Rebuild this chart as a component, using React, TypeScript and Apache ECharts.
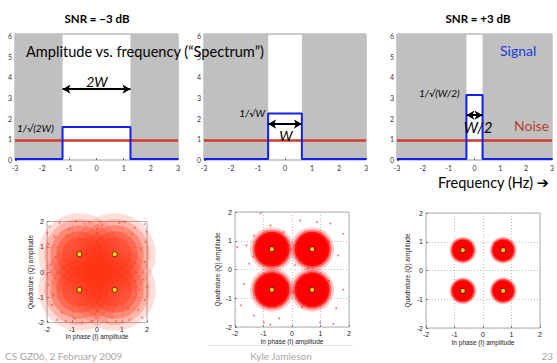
import React, { useEffect, useRef } from "react";
import * as echarts from "echarts";

// ---- Spectrum panels (top row) ----
const freqMin = -3;
const freqMax = 3;
const freqTicks = 1;
const ampMax = 6.1;
const bandHalfWidths = [1.25, 0.625, 0.3125];
const signalHeights = [1.6, 2.25, 3.15];
const signalFloor = 0.05;
const noiseLevel = 0.95;
const arrowLevels = [3.43, 1.74, 2.17];

// ---- Constellation panels (bottom row) ----
const constellationI = [-0.707, 0.707, -0.707, 0.707];
const constellationQ = [0.707, 0.707, -0.707, -0.707];
const iqMin = -2;
const iqMax = 2;

// sparse samples (plot 1)
const sparse1I = [-1.9, -1.5, -1.1, -0.5, 0.2, 0.9, 1.5, 1.9, -1.95, 1.95, -1.85, 1.9, -1.95, 1.85, -1.8, 1.9, -1.6, -0.9, -0.2, 0.6, 1.3, 1.8, -1.7, 1.65, -1.4, 1.4, 0.1, -2.0, 2.0, -0.6, 1.75, -1.75, 0.4, -0.3, 1.1, -1.25, 1.98, -1.98, 0.75, -0.85, -1.65, 1.7, -1.2, 1.25, 0.0, -0.05];
const sparse1Q = [1.8, 1.95, 1.7, 1.9, 1.85, 1.95, 1.75, 1.9, 1.1, 1.2, 0.3, 0.4, -0.5, -0.3, -1.3, -1.1, -1.9, -1.85, -1.95, -1.8, -1.9, -1.8, 1.4, -1.5, -1.6, 1.5, 2.0, -0.1, -0.6, -2.0, 0.9, -0.9, -1.98, 1.98, 1.98, -1.95, 1.6, 1.55, -1.95, 2.0, 0.6, -0.7, 1.45, -1.45, 1.7, -1.7];
// sparse samples around the mid-SNR clouds (plot 2)
const sparse2I = [-1.1, -0.76, 0.87, -1.92, 1.8, -1.34, -0.76, 0.99, 1.45, -0.99, -1.69, 1.8, -1.34, -1.8, -0.12, -0.15, 1.62, 0.29, -1.6, 1.35, -0.45, 0.1, 1.55, -1.5, 0.55, -1.35, 1.3, 1.3, -0.3, 0.35, -0.05, 0.02];
const sparse2Q = [1.95, 1.53, 1.65, 0.78, 1.24, 1.18, -1.92, -1.84, -1.89, -1.84, -0.5, -0.7, -1.6, -1.25, 0.84, -0.5, 0.49, 1.7, 0.84, 1.6, -1.7, 0.15, -1.35, 0.2, 0.05, 0.45, 0.95, -0.4, 1.3, -1.3, 0.7, -0.8];
// sparse samples around the high-SNR clouds (plot 3)
const sparse3I = [-0.98, 1.02, -0.45, 0.42, -0.92, 0.98];
const sparse3Q = [0.76, 0.62, -0.95, 0.95, -0.6, -0.85];

const fontFamily = 'Lato, "Open Sans", "DejaVu Sans", sans-serif';
const smallFont = '"Liberation Sans", Arial, sans-serif';

const topGrids = [
  { left: 15, top: 34, width: 163, height: 126 },
  { left: 204, top: 34, width: 162, height: 126 },
  { left: 397, top: 34, width: 162, height: 126 },
];
const bottomGrids = [
  { left: 47, top: 221.5, width: 100, height: 101, nameGapY: 11 },
  { left: 235, top: 212, width: 114, height: 115, nameGapY: 14 },
  { left: 426, top: 213, width: 114, height: 115, nameGapY: 15 },
];
// concentric layers [symbol size, opacity] that render each noise cloud
const cloudLayers = [
  [[82, 0.16], [70, 0.24], [58, 0.32], [46, 0.38], [34, 0.35]],
  [[44, 0.2], [39, 0.45], [35, 0.85], [31, 1]],
  [[27, 0.25], [24, 0.6], [21, 1]],
];
const cloudColors = ["#ff3010", "#ff0000", "#ff0000"];

export default function App() {
  const ref = useRef<HTMLDivElement>(null);
  useEffect(() => {
    if (!ref.current) return;
    const chart = echarts.init(ref.current, null, { renderer: "svg" });

    const grid: any[] = [];
    const xAxis: any[] = [];
    const yAxis: any[] = [];
    const series: any[] = [];

    topGrids.forEach((g, i) => {
      grid.push({ ...g, show: true, borderColor: "#9a9a9a", borderWidth: 1, backgroundColor: "#fff" });
      xAxis.push({
        gridIndex: i, type: "value", min: freqMin, max: freqMax, interval: freqTicks,
        axisLine: { show: false, onZero: false }, splitLine: { show: false },
        axisTick: { inside: true, length: 2, lineStyle: { color: "#666" } },
        axisLabel: { fontSize: 7, color: "#333", margin: 4, fontFamily },
      });
      yAxis.push({
        gridIndex: i, type: "value", min: 0, max: ampMax, interval: 1,
        axisLine: { show: false, onZero: false }, splitLine: { show: false },
        axisTick: { show: true, inside: true, length: 2, lineStyle: { color: "#666" } },
        axisLabel: {
          fontSize: 7, color: "#333", margin: 3, fontFamily,
          formatter: (v: number) => (Number.isInteger(v) ? String(v) : ""),
        },
      });
      const w = bandHalfWidths[i];
      const h = signalHeights[i];
      series.push({
        type: "line", xAxisIndex: i, yAxisIndex: i, data: [], z: 1, silent: true,
        markArea: {
          silent: true,
          itemStyle: { color: "#c0c0c0" },
          data: [
            [{ xAxis: freqMin }, { xAxis: -w }],
            [{ xAxis: w }, { xAxis: freqMax }],
          ],
        },
      });
      series.push({
        type: "line", xAxisIndex: i, yAxisIndex: i, z: 3, symbol: "none",
        lineStyle: { color: "#d23a26", width: 2.5 },
        data: [[freqMin, noiseLevel], [freqMax, noiseLevel]],
      });
      series.push({
        type: "line", xAxisIndex: i, yAxisIndex: i, z: 4, symbol: "none",
        lineStyle: { color: "#1020f0", width: 2 },
        data: [
          [freqMin, signalFloor], [-w, signalFloor], [-w, h],
          [w, h], [w, signalFloor], [freqMax, signalFloor],
        ],
      });
      series.push({
        type: "line", xAxisIndex: i, yAxisIndex: i, data: [], z: 5,
        markLine: {
          silent: true,
          symbol: ["arrow", "arrow"],
          symbolSize: [7, 8],
          label: { show: false },
          lineStyle: { color: "#000", width: 2, type: "solid" },
          data: [[{ coord: [-w, arrowLevels[i]] }, { coord: [w, arrowLevels[i]] }]],
        },
      });
    });

    const sparseI = [sparse1I, sparse2I, sparse3I];
    const sparseQ = [sparse1Q, sparse2Q, sparse3Q];
    bottomGrids.forEach((g, j) => {
      const k = j + 3;
      grid.push({
        left: g.left, top: g.top, width: g.width, height: g.height,
        show: true, borderColor: "#b0b0b0", borderWidth: 1, backgroundColor: "#fff",
      });
      const axisCommon = {
        gridIndex: k, type: "value", min: iqMin, max: iqMax, interval: 1,
        nameLocation: "middle",
        nameTextStyle: { fontSize: 6.5, color: "#222", fontFamily: smallFont },
        axisLine: { show: false, onZero: false },
        axisTick: { inside: true, length: 2, lineStyle: { color: "#777" } },
        splitLine: { show: true, lineStyle: { color: "#bdbdbd", type: [1, 2], width: 1 } },
        axisLabel: { fontSize: 7, color: "#222", margin: 3, fontFamily: smallFont },
      };
      xAxis.push({ ...axisCommon, name: "In phase (I) amplitude", nameGap: 10 });
      yAxis.push({ ...axisCommon, name: "Quadrature (Q) amplitude", nameGap: g.nameGapY });
      series.push({
        type: "scatter", xAxisIndex: k, yAxisIndex: k, z: 2, silent: true,
        symbol: "circle", symbolSize: 2,
        itemStyle: { color: j === 0 ? "rgba(255,60,40,0.75)" : "rgba(255,40,40,0.75)" },
        data: sparseI[j].map((v, n) => [v, sparseQ[j][n]]),
      });
      cloudLayers[j].forEach(([size, op], l) => {
        series.push({
          type: "scatter", xAxisIndex: k, yAxisIndex: k, z: 3 + l * 0.01, silent: true,
          symbol: "circle", symbolSize: size,
          itemStyle: { color: cloudColors[j], opacity: op },
          data: constellationI.map((v, n) => [v, constellationQ[n]]),
        });
      });
      series.push({
        type: "scatter", xAxisIndex: k, yAxisIndex: k, z: 6, silent: true,
        symbol: "circle", symbolSize: 5,
        itemStyle: { color: "#ffff00", borderColor: "#000", borderWidth: 0.8 },
        data: constellationI.map((v, n) => [v, constellationQ[n]]),
      });
    });

    const txt = (x: number, y: number, text: string, o: any = {}) => ({
      type: "text", x, y, z: 100, silent: true,
      style: {
        text, fontFamily, fontSize: 14, fill: "#000",
        textAlign: "left", textVerticalAlign: "middle", ...o,
      },
    });

    const graphic: any[] = [
      txt(97, 18, "SNR = \u22123 dB", { fontSize: 11.5, fontWeight: "bold", textAlign: "center" }),
      txt(478, 18, "SNR = +3 dB", { fontSize: 11.5, fontWeight: "bold", textAlign: "center" }),
      txt(26, 51, "Amplitude vs. frequency (\u201CSpectrum\u201D)", { fontSize: 14.6 }),
      txt(97, 81, "2W", { fontSize: 14, fontStyle: "italic", textAlign: "center" }),
      txt(17, 128, "1/\u221A(2W)", { fontSize: 10, fontStyle: "italic" }),
      txt(265, 113, "1/\u221AW", { fontSize: 10, fontStyle: "italic", textAlign: "right" }),
      txt(286, 135, "W", { fontSize: 14, fontStyle: "italic", textAlign: "center" }),
      txt(419, 93, "1/\u221A(W/2)", { fontSize: 10, fontStyle: "italic" }),
      txt(478, 127, "W/2", { fontSize: 15, fontStyle: "italic", textAlign: "center" }),
      txt(500, 50, "Signal", { fontSize: 14, fill: "#1a3ad8" }),
      txt(514, 125, "Noise", { fontSize: 14, fill: "#b8432c" }),
      txt(438, 182, "Frequency (Hz) \u2794", { fontSize: 14.5 }),
      {
        type: "line", z: 50, silent: true,
        shape: { x1: 208, y1: 345.5, x2: 353, y2: 345.5 },
        style: { stroke: "#e2e2e2", lineWidth: 1 },
      },
      txt(5, 356, "CS GZ06, 2 February 2009", { fontSize: 10, fill: "#a6a6a6" }),
      txt(281, 356, "Kyle Jamieson", { fontSize: 10, fill: "#a6a6a6", textAlign: "center" }),
      txt(553, 356, "23", { fontSize: 10, fill: "#a6a6a6", textAlign: "right" }),
    ];

    chart.setOption({
      animation: false,
      backgroundColor: "#fff",
      grid, xAxis, yAxis, series, graphic,
    });
    return () => chart.dispose();
  }, []);

  return (
    <div
      ref={ref}
      style={{ position: "absolute", left: 0, top: 0, width: 557, height: 363 }}
    />
  );
}
